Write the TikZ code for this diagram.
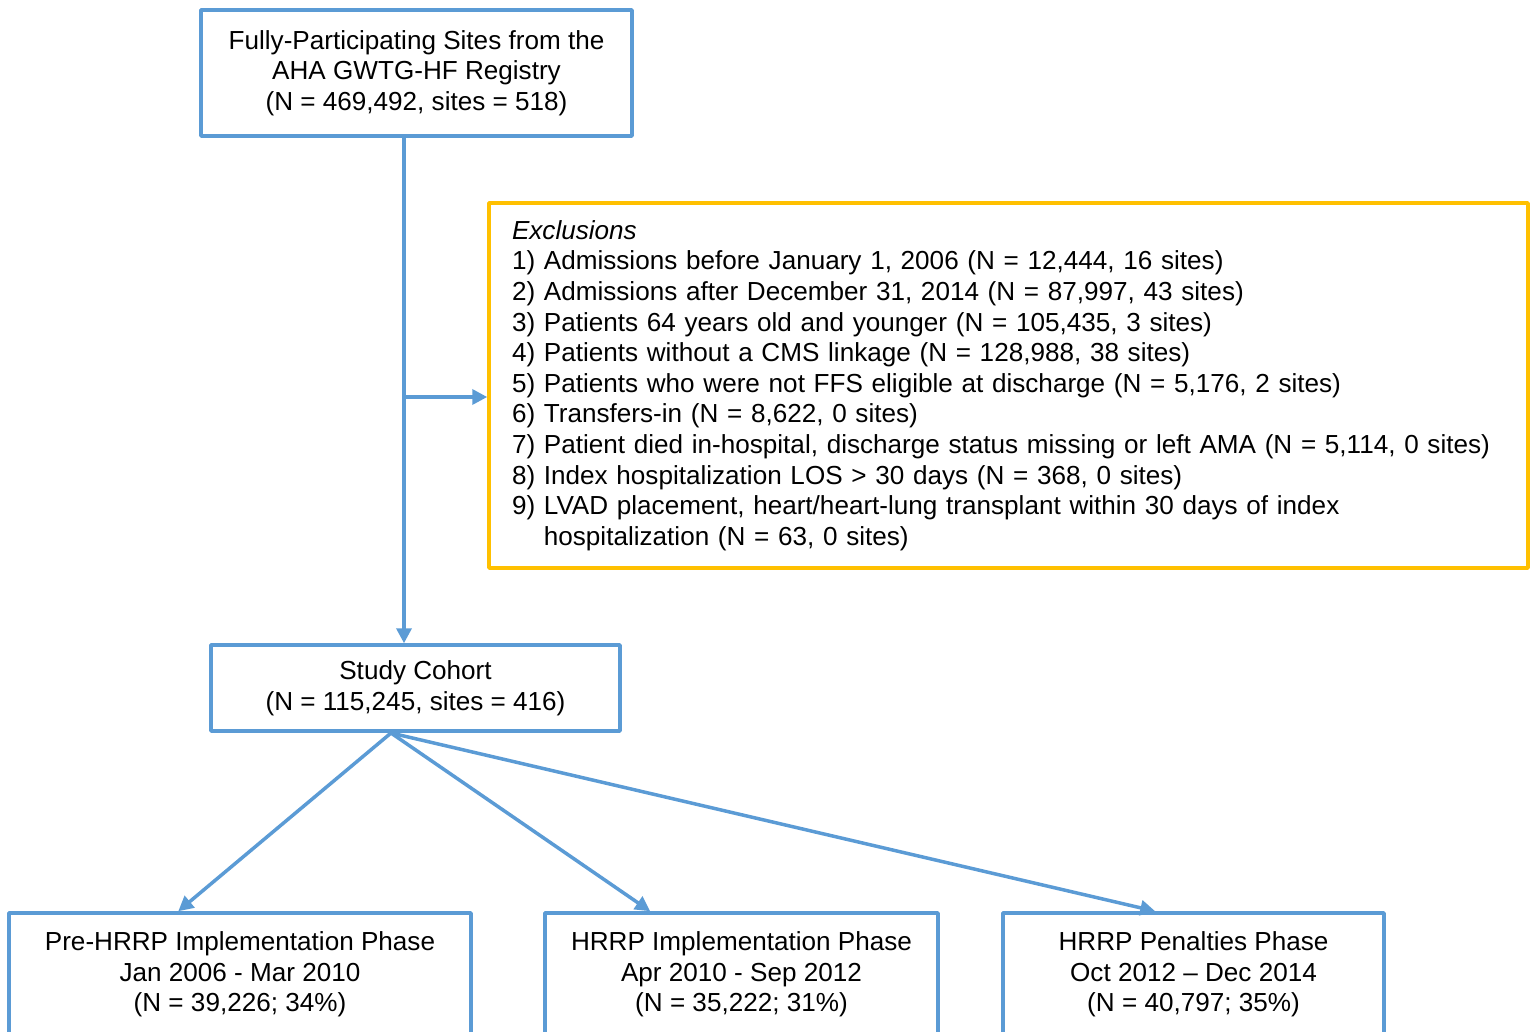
\documentclass[tikz,border=0pt]{standalone}
\usepackage{fontspec}
\setmainfont{Liberation Sans}
\usetikzlibrary{arrows.meta, calc, positioning}
\definecolor{boxblue}{RGB}{91,155,213}
\definecolor{exclgold}{RGB}{255,192,0}

\begin{document}
\begin{tikzpicture}[x=1pt, y=-1pt, line join=round, >={Triangle[length=15pt,width=15pt]},
	box/.style={draw=boxblue, line width=3.5pt, align=center, inner sep=0pt, font=\fontsize{26.1}{30.6}\selectfont},
	link/.style={->, draw=boxblue, line width=3.5pt}]
	\useasboundingbox (0,0) rectangle (1530,1032);
	
	% boxes
	\node[box, minimum width=431pt, minimum height=126pt] (top) at (416.5,73) {Fully-Participating Sites from the\\AHA GWTG-HF Registry\\(N = 469,492, sites = 518)};
	\node[box, draw=exclgold, minimum width=1039pt, minimum height=365pt, text width=993pt, align=left] (excl) at (1008.5,385.5) {\textit{Exclusions}\\
		1) Admissions before January 1, 2006 (N = 12,444, 16 sites)\\
		2) Admissions after December 31, 2014 (N = 87,997, 43 sites)\\
		3) Patients 64 years old and younger (N = 105,435, 3 sites)\\
		4) Patients without a CMS linkage (N = 128,988, 38 sites)\\
		5) Patients who were not FFS eligible at discharge (N = 5,176, 2 sites)\\
		6) Transfers-in (N = 8,622, 0 sites)\\
		7) Patient died in-hospital, discharge status missing or left AMA (N = 5,114, 0 sites)\\
		8) Index hospitalization LOS > 30 days (N = 368, 0 sites)\\
		9) LVAD placement, heart/heart-lung transplant within 30 days of index\\
		\hphantom{9) }hospitalization (N = 63, 0 sites)};
	\node[box, minimum width=409pt, minimum height=86pt] (cohort) at (415.5,688) {Study Cohort\\(N = 115,245, sites = 416)};
	\node[box, minimum width=462pt, minimum height=123pt] (pre) at (240,974.5) {Pre-HRRP Implementation Phase\\Jan 2006 - Mar 2010\\(N = 39,226; 34\%)};
	\node[box, minimum width=393pt, minimum height=123pt] (impl) at (741.5,974.5) {HRRP Implementation Phase\\Apr 2010 - Sep 2012\\(N = 35,222; 31\%)};
	\node[box, minimum width=381pt, minimum height=123pt] (pen) at (1193.5,974.5) {HRRP Penalties Phase\\Oct 2012 – Dec 2014\\(N = 40,797; 35\%)};
	
	% branch points
	\coordinate (split) at (404,397);
	\coordinate (fork) at (391,733);
	
	% arrows
	\draw[link] (top.south -| split) -- (cohort.north -| split);
	\draw[link] (split) -- (split -| excl.west);
	\draw[link] (fork) -- ([xshift=171pt]pre.north west);
	\draw[link] (fork) -- ([xshift=107pt]impl.north west);
	\draw[link] (fork) -- ([xshift=154pt]pen.north west);
	
\end{tikzpicture}
\end{document}
